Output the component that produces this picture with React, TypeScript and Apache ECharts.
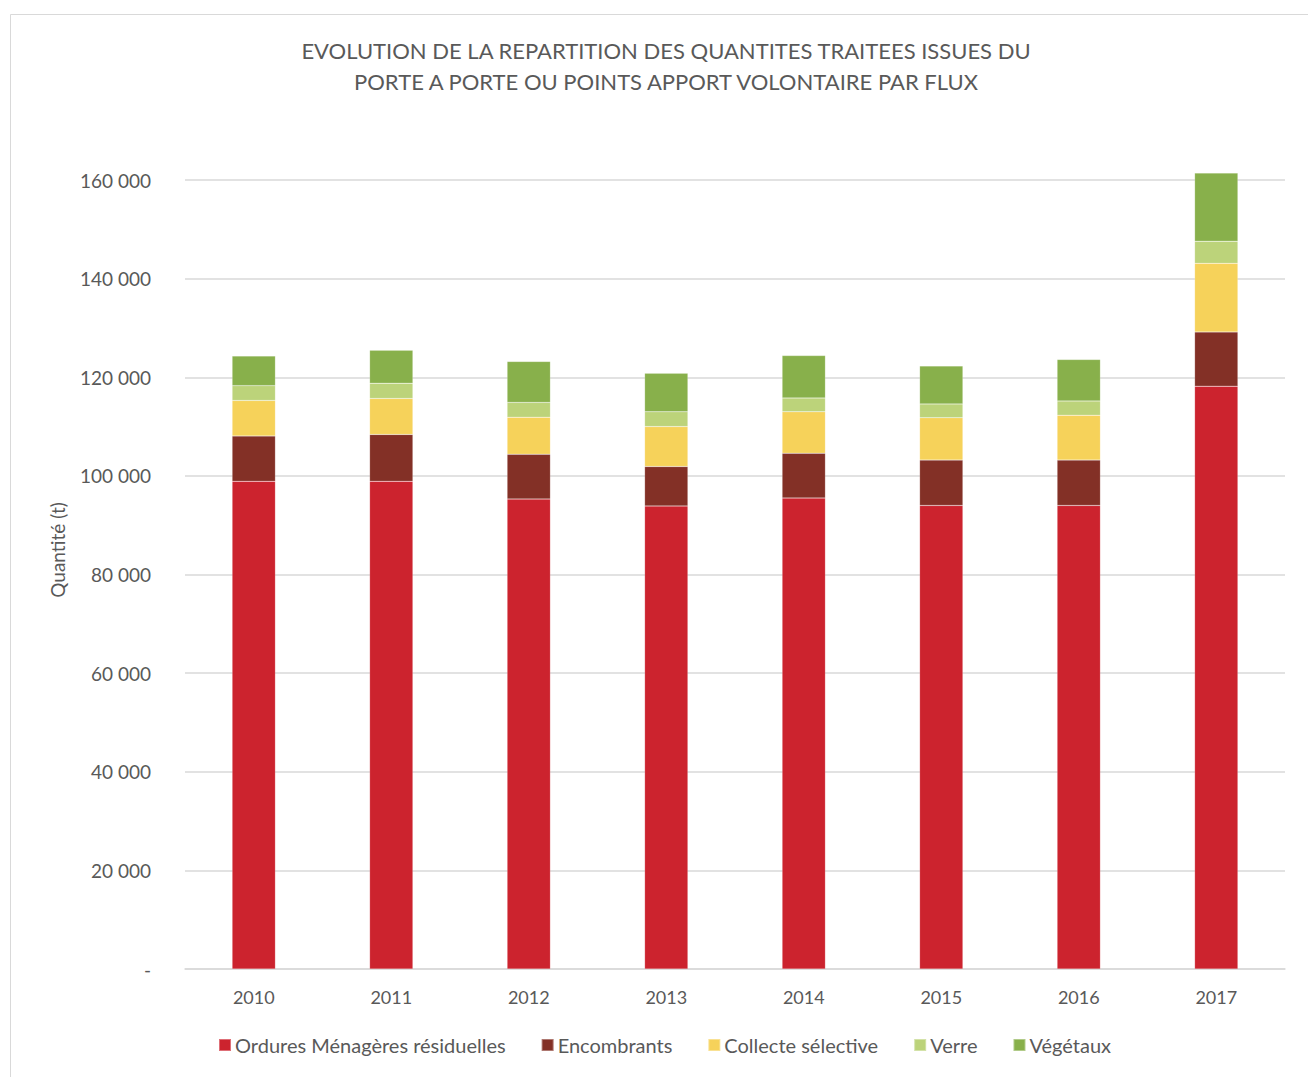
import React, { useEffect, useRef } from "react";
import * as echarts from "echarts";

const years = ["2010", "2011", "2012", "2013", "2014", "2015", "2016", "2017"];
const omr = [98900, 98900, 95300, 93900, 95500, 94000, 94000, 118200];
const encombrants = [9200, 9500, 9100, 8000, 9100, 9200, 9200, 11000];
const collecte = [7200, 7300, 7500, 8100, 8400, 8600, 9100, 13900];
const verre = [3000, 3100, 3000, 3000, 2800, 2800, 2900, 4500];
const vegetaux = [6000, 6700, 8300, 7800, 8600, 7700, 8400, 13800];

const seriesNames = ["Ordures Ménagères résiduelles", "Encombrants", "Collecte sélective", "Verre", "Végétaux"];
const seriesData = [omr, encombrants, collecte, verre, vegetaux];
const colors = ["#CC232E", "#833026", "#F6D25A", "#BCD37A", "#88B04B"];

const FONT = "Lato";

export default function App() {
  const ref = useRef<HTMLDivElement>(null);
  useEffect(() => {
    const chart = echarts.init(ref.current!, null, { renderer: "svg" });
    chart.setOption({
      animation: false,
      backgroundColor: "#ffffff",
      textStyle: { fontFamily: FONT },
      graphic: [
        {
          type: "rect",
          shape: { x: 10.5, y: 14.5, width: 1400, height: 1200 },
          style: { fill: "none", stroke: "#d9d9d9", lineWidth: 1 },
          silent: true,
        },
        {
          type: "text",
          x: 57,
          y: 550,
          rotation: Math.PI / 2,
          style: {
            text: "Quantité (t)",
            fontFamily: FONT,
            fontSize: 19,
            fill: "#595959",
            textAlign: "center",
            textVerticalAlign: "middle",
          },
          silent: true,
        },
      ],
      title: {
        text: "EVOLUTION DE LA REPARTITION DES QUANTITES TRAITEES ISSUES DU\nPORTE A PORTE OU POINTS APPORT VOLONTAIRE PAR FLUX",
        left: 661,
        textAlign: "center",
        top: 30,
        textStyle: { fontFamily: FONT, fontSize: 22, fontWeight: "normal", color: "#595959", lineHeight: 31 },
      },
      legend: {
        bottom: 17,
        left: 213,
        itemWidth: 12,
        itemHeight: 12,
        itemGap: 35,
        icon: "rect",
        textStyle: { fontFamily: FONT, fontSize: 20, color: "#595959", padding: [0, 0, 0, -1] },
        data: seriesNames,
      },
      grid: { left: 185, right: 23, top: 180, bottom: 108, containLabel: false },
      xAxis: {
        type: "category",
        data: years,
        axisLine: { show: true, lineStyle: { color: "#d9d9d9", width: 1.5 } },
        axisTick: { show: false },
        axisLabel: { fontFamily: FONT, fontSize: 18, color: "#595959", margin: 19 },
      },
      yAxis: {
        type: "value",
        min: 0,
        max: 160000,
        interval: 20000,
        axisLine: { show: false },
        axisTick: { show: false },
        splitLine: { lineStyle: { color: "#d9d9d9", width: 1.5 } },
        axisLabel: {
          fontFamily: FONT,
          fontSize: 19,
          color: "#595959",
          margin: 34,
          formatter: (v: number) => (v === 0 ? "-" : String(v / 1000) + " 000"),
        },
      },
      series: seriesNames.map((name, i) => ({
        name,
        type: "bar",
        stack: "total",
        barWidth: "31.5%",
        clip: false,
        data: seriesData[i],
        itemStyle: { color: colors[i], borderColor: "rgba(255,255,255,0.35)", borderWidth: 0.5 },
      })),
    });
    return () => chart.dispose();
  }, []);
  return (
    <div style={{ position: "absolute", left: 0, top: 0, width: 1308, height: 1077 }}>
      <div ref={ref} style={{ width: 1308, height: 1077 }} />
    </div>
  );
}
